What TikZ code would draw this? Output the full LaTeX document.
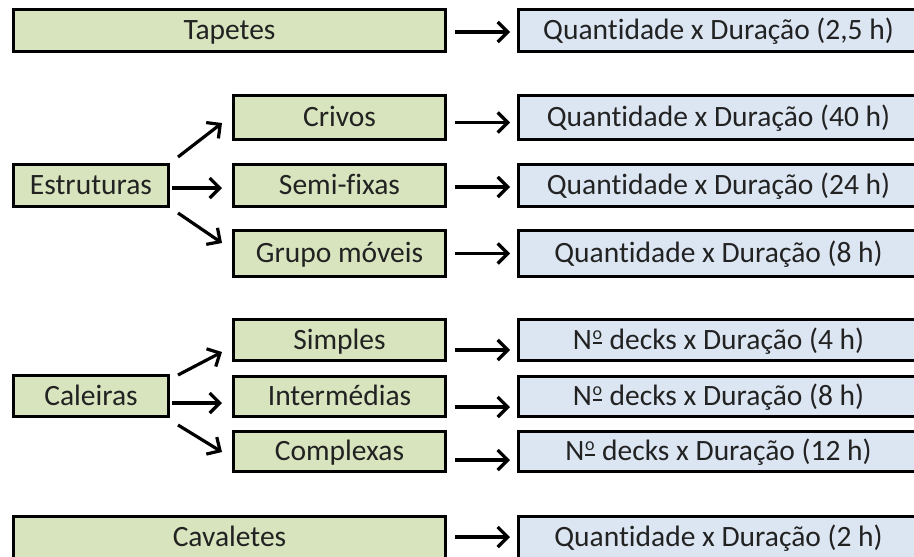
\documentclass[tikz,border=0pt]{standalone}
\usepackage{fontspec}
\setmainfont[Ligatures=NoCommon]{Carlito}
\usetikzlibrary{arrows.meta}
\definecolor{boxgreen}{HTML}{D7E4BD}
\definecolor{boxblue}{HTML}{DCE6F2}
\definecolor{txt}{HTML}{222222}
% ordinal indicator: raised small o over a short bar
\newcommand{\ordo}{\kern0.8pt\rlap{\rule[5pt]{9.5pt}{1.8pt}}\raisebox{10pt}{\fontsize{18}{18}\selectfont o}\kern0.8pt}
\tikzset{
  base/.style={draw=black, line width=3pt, inner sep=0pt, text=txt,
    font=\fontsize{29.5}{32}\selectfont, text height=20pt, text depth=1.5pt},
  gbox/.style={base, fill=boxgreen},
  bbox/.style={base, fill=boxblue, minimum width=400pt},
  arr/.style={line width=3.2pt, -{Straight Barb[length=10pt,width=20pt]}},
}
\begin{document}
\begin{tikzpicture}[x=1pt,y=-1pt]
\useasboundingbox (0,0) rectangle (914,557);
\begin{scope}
\clip (0,0) rectangle (914,557);
% left column
\node[gbox, minimum width=432pt, minimum height=42pt] (tap) at (229.5,30.5) {Tapetes};
\node[gbox, minimum width=155pt, minimum height=42pt] (estr) at (91,185.5) {Estruturas};
\node[gbox, minimum width=212pt, minimum height=44pt] (criv) at (339.5,117.5) {Crivos};
\node[gbox, minimum width=212pt, minimum height=42pt] (semi) at (339.5,185.5) {Semi-fixas};
\node[gbox, minimum width=212pt, minimum height=46pt] (grup) at (339.5,253.5) {Grupo móveis};
\node[gbox, minimum width=155pt, minimum height=41pt] (cal) at (91,396) {Caleiras};
\node[gbox, minimum width=212pt, minimum height=41pt] (simp) at (339.5,340) {Simples};
\node[gbox, minimum width=212pt, minimum height=40pt] (inte) at (339.5,396.5) {Intermédias};
\node[gbox, minimum width=212pt, minimum height=40pt] (comp) at (339.5,451.5) {Complexas};
\node[gbox, minimum width=432pt, minimum height=42pt] (cav) at (229.5,537) {Cavaletes};
% right column
\node[bbox, minimum height=42pt] (q0) at (718.5,30.5) {Quantidade x Duração (2,5 h)};
\node[bbox, minimum height=44pt] (q1) at (718.5,117.5) {Quantidade x Duração (40 h)};
\node[bbox, minimum height=42pt] (q2) at (718.5,185.5) {Quantidade x Duração (24 h)};
\node[bbox, minimum height=46pt] (q3) at (718.5,253.5) {Quantidade x Duração (8 h)};
\node[bbox, minimum height=41pt] (q4) at (718.5,340) {N\ordo{} decks x Duração (4 h)};
\node[bbox, minimum height=40pt] (q5) at (718.5,396.5) {N\ordo{} decks x Duração (8 h)};
\node[bbox, minimum height=40pt] (q6) at (718.5,451.5) {N\ordo{} decks x Duração (12 h)};
\node[bbox, minimum height=42pt] (q7) at (718.5,537) {Quantidade x Duração (2 h)};
\end{scope}
% row arrows
\draw[arr] ([xshift=8pt,yshift=-1.5pt]tap.east) -- ([xshift=-7pt,yshift=-1.5pt]q0.west);
\draw[arr] ([xshift=8pt,yshift=-5pt]criv.east) -- ([xshift=-7pt,yshift=-5pt]q1.west);
\draw[arr] ([xshift=8pt,yshift=-1.5pt]semi.east) -- ([xshift=-7pt,yshift=-1.5pt]q2.west);
\draw[arr] ([xshift=8pt]grup.east) -- ([xshift=-7pt]q3.west);
\draw[arr] ([xshift=8pt,yshift=-10pt]simp.east) -- ([xshift=-7pt,yshift=-10pt]q4.west);
\draw[arr] ([xshift=8pt,yshift=-10.5pt]inte.east) -- ([xshift=-7pt,yshift=-10.5pt]q5.west);
\draw[arr] ([xshift=8pt,yshift=-8.5pt]comp.east) -- ([xshift=-7pt,yshift=-8.5pt]q6.west);
\draw[arr] ([xshift=8pt]cav.east) -- ([xshift=-7pt]q7.west);
% branching arrows
\draw[arr] ([xshift=8pt,yshift=28.5pt]estr.east) -- ([xshift=-10pt,yshift=-5.5pt]criv.west);
\draw[arr] ([xshift=2pt,yshift=-2.5pt]estr.east) -- ([xshift=-10pt,yshift=-2.5pt]semi.west);
\draw[arr] ([xshift=8pt,yshift=-27.5pt]estr.east) -- ([xshift=-10pt,yshift=10.5pt]grup.west);
\draw[arr] ([xshift=8pt,yshift=21pt]cal.east) -- ([xshift=-10pt,yshift=-12pt]simp.west);
\draw[arr] ([xshift=2pt,yshift=-7pt]cal.east) -- ([xshift=-10pt,yshift=-6.5pt]inte.west);
\draw[arr] ([xshift=8pt,yshift=-29pt]cal.east) -- ([xshift=-10pt,yshift=-0.5pt]comp.west);
\end{tikzpicture}
\end{document}
